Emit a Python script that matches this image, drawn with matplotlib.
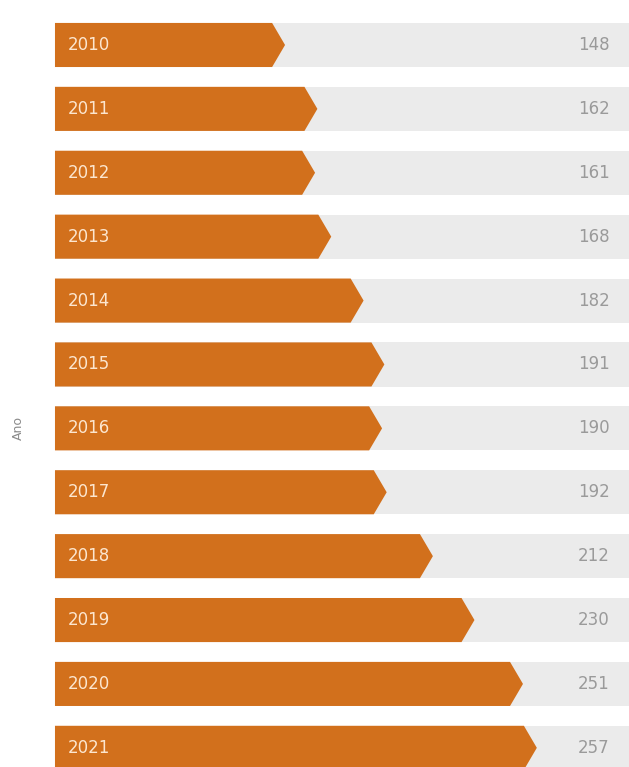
import matplotlib.pyplot as plt
from matplotlib.patches import Polygon, Rectangle

years = ["2010", "2011", "2012", "2013", "2014", "2015",
         "2016", "2017", "2018", "2019", "2020", "2021"]
values = [148, 162, 161, 168, 182, 191, 190, 192, 212, 230, 251, 257]

bar_color = "#D2701C"
track_color = "#EBEBEB"
base = 48.4      # where the bars start on the value axis
track_end = 300
tip = 5.6        # length of the arrow point
h = 0.69

fig = plt.figure(figsize=(6.29, 7.67), dpi=100)
ax = fig.add_axes([0, 0, 1, 1])
ax.set_xlim(24.6, 296.9)
ax.set_ylim(11.30, -0.704)
ax.set_axis_off()

for i, (yr, v) in enumerate(zip(years, values)):
    ax.add_patch(Rectangle((base, i - h / 2), track_end - base, h,
                           facecolor=track_color, edgecolor="none"))
    body = v - tip
    pts = [(base, i - h / 2), (body, i - h / 2), (v, i),
           (body, i + h / 2), (base, i + h / 2)]
    ax.add_patch(Polygon(pts, closed=True, facecolor=bar_color, edgecolor="none"))
    ax.text(base + 5.5, i, yr, color="#FCE6CF", fontsize=12,
            ha="left", va="center")
    ax.text(288.5, i, str(v), color="#9A9A9A", fontsize=12,
            ha="right", va="center")

fig.text(0.03, 0.442, "Ano", rotation=90, color="#8A8A8A", fontsize=9,
         ha="center", va="center")

fig.savefig("out.png", dpi=100)
